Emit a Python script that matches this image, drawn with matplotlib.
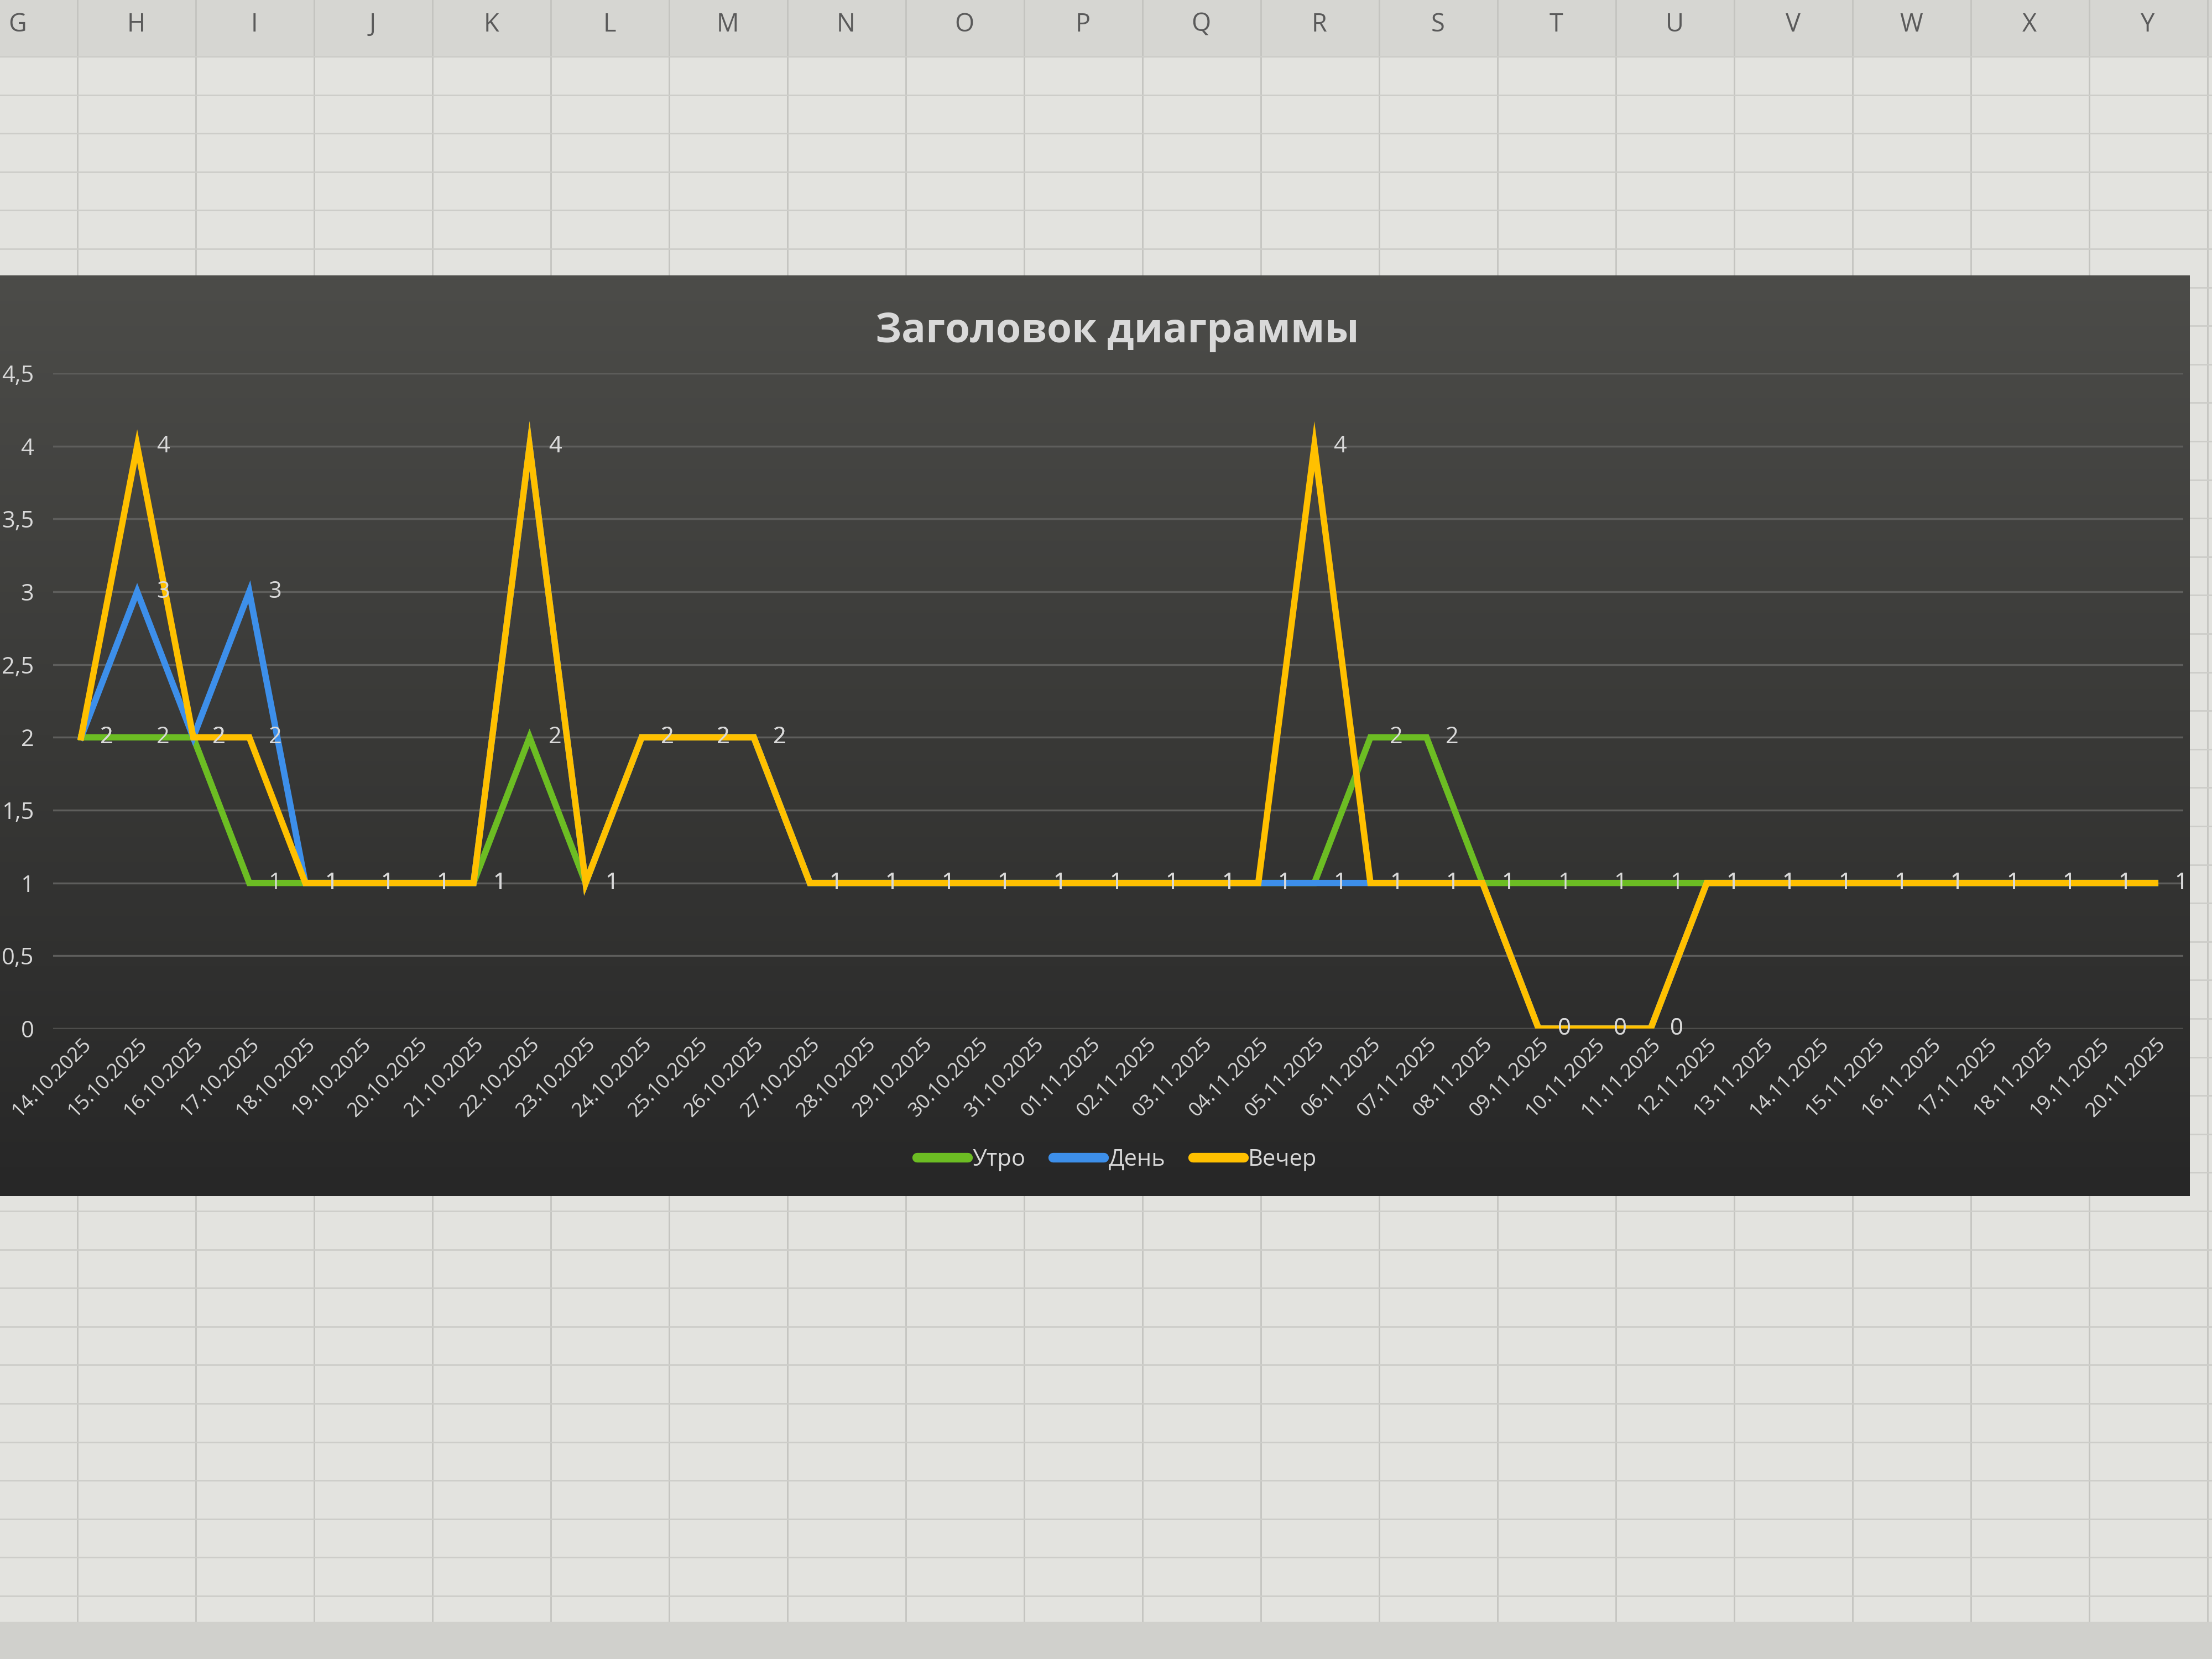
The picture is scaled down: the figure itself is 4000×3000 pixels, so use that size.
import numpy as np
import matplotlib
matplotlib.use('Agg')
from matplotlib import pyplot as plt
from matplotlib.lines import Line2D
from matplotlib.ticker import FuncFormatter

plt.rcParams['font.family'] = ['Open Sans', 'DejaVu Sans']

dates = ['14.10.2025', '15.10.2025', '16.10.2025', '17.10.2025', '18.10.2025',
         '19.10.2025', '20.10.2025', '21.10.2025', '22.10.2025', '23.10.2025',
         '24.10.2025', '25.10.2025', '26.10.2025', '27.10.2025', '28.10.2025',
         '29.10.2025', '30.10.2025', '31.10.2025', '01.11.2025', '02.11.2025',
         '03.11.2025', '04.11.2025', '05.11.2025', '06.11.2025', '07.11.2025',
         '08.11.2025', '09.11.2025', '10.11.2025', '11.11.2025', '12.11.2025',
         '13.11.2025', '14.11.2025', '15.11.2025', '16.11.2025', '17.11.2025',
         '18.11.2025', '19.11.2025', '20.11.2025']

utro = [2, 2, 2, 1, 1, 1, 1, 1, 2, 1, 2, 2, 2, 1, 1, 1, 1, 1, 1,
        1, 1, 1, 1, 2, 2, 1, 1, 1, 1, 1, 1, 1, 1, 1, 1, 1, 1, 1]
den = [2, 3, 2, 3, 1, 1, 1, 1, 4, 1, 2, 2, 2, 1, 1, 1, 1, 1, 1,
       1, 1, 1, 1, 1, 1, 1, 0, 0, 0, 1, 1, 1, 1, 1, 1, 1, 1, 1]
vecher = [2, 4, 2, 2, 1, 1, 1, 1, 4, 1, 2, 2, 2, 1, 1, 1, 1, 1, 1,
          1, 1, 1, 4, 1, 1, 1, 0, 0, 0, 1, 1, 1, 1, 1, 1, 1, 1, 1]

series = [('Утро', utro, '#6cbd23'),
          ('День', den, '#3d8fea'),
          ('Вечер', vecher, '#ffc000')]

col_letters = ['G', 'H', 'I', 'J', 'K', 'L', 'M', 'N', 'O', 'P',
               'Q', 'R', 'S', 'T', 'U', 'V', 'W', 'X', 'Y']

text_color = '#d9d9d9'

fig = plt.figure(figsize=(16, 12), dpi=250)
fig.patch.set_facecolor('#e3e3df')

# spreadsheet behind the chart
for xc in np.arange(0.035, 1.0, 0.0535):
    fig.add_artist(Line2D([xc, xc], [0, 1], color='#c4c4c0', lw=0.8, zorder=0.2))
for yr in np.arange(0.966, 0.0, -0.0232):
    fig.add_artist(Line2D([0, 1], [yr, yr], color='#cdcdc9', lw=0.8, zorder=0.2))
fig.add_artist(plt.Rectangle((0, 0.966), 1, 0.034, color='#d6d6d2', zorder=0.1))
for i, letter in enumerate(col_letters):
    fig.text(0.008 + i * 0.0535, 0.985, letter, fontsize=13, color='#5a5a5a',
             ha='center', va='center')
fig.add_artist(plt.Rectangle((0, 0), 1, 0.022, color='#d0d0cc', zorder=0.3))

# chart background with gradient
bg = fig.add_axes([0.0, 0.279, 0.99, 0.555], zorder=1)
grad = np.linspace(0, 1, 256).reshape(-1, 1)
bg.imshow(grad, aspect='auto', cmap=matplotlib.colors.LinearSegmentedColormap.from_list(
    'bg', ['#4c4c49', '#393937', '#272727']), extent=[0, 1, 0, 1])
bg.set_axis_off()

ax = fig.add_axes([0.024, 0.38, 0.963, 0.395], zorder=2)
ax.patch.set_alpha(0)
x = np.arange(len(dates))

for name, vals, color in series:
    ax.plot(x, vals, color=color, lw=3.3, label=name, solid_joinstyle='miter', zorder=3)
for name, vals, color in series:
    for xi, v in zip(x, vals):
        ax.annotate(f'{v}', (xi, v), xytext=(10, 0), textcoords='offset points',
                    ha='left', va='center', fontsize=12, color=text_color, zorder=5)

ax.set_xlim(-0.5, len(dates) - 0.5)
ax.set_ylim(0, 4.5)
ax.set_yticks(np.arange(0, 4.51, 0.5))
ax.yaxis.set_major_formatter(FuncFormatter(lambda v, p: f'{v:g}'.replace('.', ',')))
ax.set_xticks(x)
ax.set_xticklabels(dates, rotation=45, ha='right', rotation_mode='anchor')
ax.tick_params(axis='y', length=0, colors=text_color, labelsize=12, pad=10)
ax.tick_params(axis='x', length=0, colors=text_color, labelsize=10.5, pad=3)
ax.grid(axis='y', color='#5e5e5c', lw=1.0)
for s in ax.spines.values():
    s.set_visible(False)

fig.text(0.505, 0.80, 'Заголовок диаграммы', ha='center', va='center',
         fontsize=21, fontweight='bold', color=text_color, zorder=3)

handles = [Line2D([0], [0], color=c, lw=5, solid_capstyle='round') for _, _, c in series]
leg = fig.legend(handles, [n for n, _, _ in series], loc='center', bbox_to_anchor=(0.505, 0.301),
                 ncol=3, frameon=False, fontsize=12, labelcolor=text_color,
                 handlelength=2.2, handletextpad=0.2, columnspacing=1.2)
leg.set_zorder(3)

fig.savefig('out.png', dpi=250, facecolor=fig.get_facecolor())
